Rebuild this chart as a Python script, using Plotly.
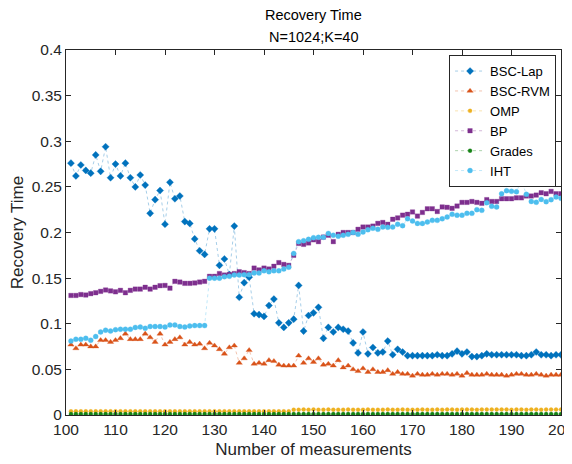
import plotly.graph_objects as go

x_vals = list(range(101, 201))

bsc_lap = [0.276, 0.262, 0.274, 0.268, 0.265, 0.285, 0.267, 0.294, 0.260, 0.275,
           0.262, 0.276, 0.260, 0.250, 0.263, 0.252, 0.221, 0.236, 0.246, 0.209,
           0.255, 0.237, 0.240, 0.212, 0.210, 0.193, 0.180, 0.176, 0.204, 0.204,
           0.164, 0.171, 0.154, 0.207, 0.129, 0.145, 0.151, 0.111, 0.110, 0.108,
           0.120, 0.127, 0.101, 0.096, 0.101, 0.105, 0.142, 0.092, 0.109, 0.112,
           0.118, 0.084, 0.096, 0.091, 0.096, 0.094, 0.092, 0.079, 0.068, 0.091,
           0.067, 0.074, 0.068, 0.069, 0.081, 0.066, 0.072, 0.069, 0.065, 0.065,
           0.065, 0.065, 0.065, 0.065, 0.066, 0.065, 0.065, 0.067, 0.070, 0.067,
           0.069, 0.064, 0.064, 0.065, 0.067, 0.066, 0.066, 0.066, 0.066, 0.066,
           0.066, 0.065, 0.065, 0.066, 0.069, 0.066, 0.066, 0.065, 0.066, 0.066]

bsc_rvm = [0.077, 0.073, 0.077, 0.077, 0.075, 0.075, 0.082, 0.082, 0.080, 0.082,
           0.084, 0.089, 0.083, 0.083, 0.083, 0.089, 0.085, 0.080, 0.089, 0.077,
           0.080, 0.083, 0.085, 0.077, 0.080, 0.077, 0.078, 0.073, 0.079, 0.076,
           0.072, 0.067, 0.074, 0.076, 0.057, 0.062, 0.071, 0.056, 0.057, 0.056,
           0.060, 0.059, 0.055, 0.054, 0.054, 0.054, 0.065, 0.057, 0.062, 0.058,
           0.062, 0.055, 0.056, 0.054, 0.060, 0.052, 0.054, 0.050, 0.048, 0.051,
           0.047, 0.050, 0.047, 0.047, 0.049, 0.045, 0.047, 0.045, 0.045, 0.043,
           0.045, 0.044, 0.044, 0.045, 0.044, 0.045, 0.045, 0.044, 0.045, 0.043,
           0.046, 0.044, 0.044, 0.044, 0.045, 0.044, 0.044, 0.044, 0.043, 0.044,
           0.045, 0.045, 0.044, 0.044, 0.045, 0.044, 0.043, 0.044, 0.044, 0.044]

omp = [0.004] * 45 + [0.0058, 0.0058, 0.0060, 0.0058, 0.0060, 0.0058, 0.0058, 0.0060, 0.0058, 0.0058,
                      0.0058, 0.0060, 0.0058, 0.0058, 0.0058, 0.0060, 0.0058, 0.0058, 0.0058, 0.0060,
                      0.0058, 0.0058, 0.0060, 0.0058, 0.0058, 0.0058, 0.0060, 0.0058, 0.0058, 0.0060,
                      0.0058, 0.0060, 0.0060, 0.0058, 0.0060, 0.0060, 0.0060, 0.0058, 0.0060, 0.0060,
                      0.0060, 0.0060, 0.0060, 0.0060, 0.0058, 0.0060, 0.0060, 0.0058, 0.0060, 0.0060,
                      0.0058, 0.0060, 0.0060, 0.0060, 0.0060]

bp = [0.131, 0.131, 0.132, 0.1315, 0.133, 0.134, 0.1355, 0.137, 0.136, 0.135,
      0.1366, 0.134, 0.1366, 0.138, 0.138, 0.140, 0.138, 0.140, 0.1417, 0.142,
      0.139, 0.1465, 0.1457, 0.1443, 0.1443, 0.1447, 0.1457, 0.1465, 0.152, 0.152,
      0.155, 0.1534, 0.154, 0.155, 0.157, 0.156, 0.155, 0.161, 0.159, 0.161,
      0.160, 0.163, 0.167, 0.165, 0.164, 0.175, 0.188, 0.187, 0.1885, 0.192,
      0.190, 0.195, 0.197, 0.190, 0.198, 0.200, 0.200, 0.200, 0.2035, 0.206,
      0.206, 0.207, 0.210, 0.211, 0.209, 0.2145, 0.216, 0.219, 0.220, 0.2225,
      0.218, 0.222, 0.226, 0.226, 0.223, 0.228, 0.2276, 0.2265, 0.229, 0.233,
      0.233, 0.234, 0.233, 0.232, 0.236, 0.234, 0.234, 0.237, 0.237, 0.237,
      0.238, 0.238, 0.240, 0.240, 0.241, 0.2436, 0.2425, 0.245, 0.2425, 0.2425]

grades = [0.001] * 100

iht = [0.081, 0.083, 0.083, 0.084, 0.082, 0.086, 0.091, 0.093, 0.092, 0.0935,
       0.094, 0.094, 0.094, 0.096, 0.0964, 0.095, 0.097, 0.097, 0.097, 0.0964,
       0.0986, 0.0986, 0.097, 0.0964, 0.0975, 0.098, 0.098, 0.098, 0.150, 0.150,
       0.150, 0.1516, 0.152, 0.1534, 0.1534, 0.1538, 0.1538, 0.1556, 0.1556, 0.158,
       0.157, 0.158, 0.158, 0.160, 0.162, 0.177, 0.190, 0.191, 0.1925, 0.1943,
       0.1947, 0.1947, 0.199, 0.197, 0.196, 0.197, 0.198, 0.200, 0.198, 0.2005,
       0.203, 0.2046, 0.2035, 0.206, 0.2057, 0.206, 0.209, 0.2075, 0.215, 0.2126,
       0.210, 0.210, 0.2115, 0.2133, 0.2133, 0.215, 0.217, 0.220, 0.219, 0.219,
       0.221, 0.221, 0.225, 0.2243, 0.2327, 0.2287, 0.228, 0.2425, 0.2458, 0.2451,
       0.2447, 0.2572, 0.2418, 0.234, 0.2331, 0.2363, 0.2338, 0.236, 0.2389, 0.2374]

y_ticks = [0, 0.05, 0.1, 0.15, 0.2, 0.25, 0.3, 0.35, 0.4]
y_ticktext = ["0", "0.05", "0.1", "0.15", "0.2", "0.25", "0.3", "0.35", "0.4"]
title_lines = ["Recovery Time", "N=1024;K=40"]

series = [
    ("BSC-Lap", bsc_lap, (0, 114, 189), "diamond", 5.5),
    ("BSC-RVM", bsc_rvm, (217, 83, 25), "triangle-up", 5.5),
    ("OMP", omp, (237, 177, 32), "circle", 4),
    ("BP", bp, (126, 47, 142), "square", 4.5),
    ("Grades", grades, (20, 130, 20), "circle", 4),
    ("IHT", iht, (77, 190, 238), "circle", 5),
]

fig = go.Figure()
for name, vals, (r, g, b), sym, sz in series:
    fig.add_trace(go.Scatter(
        x=x_vals, y=vals, name=name, mode="lines+markers",
        line=dict(color=f"rgba({r},{g},{b},0.35)", width=1, dash="dot"),
        marker=dict(symbol=sym, size=sz, color=f"rgb({r},{g},{b})",
                    line=dict(color=f"rgba({r},{g},{b},0.3)", width=1)),
    ))

axis_common = dict(
    showline=True, linecolor="#262626", linewidth=1, mirror="ticks",
    ticks="inside", ticklen=5, tickcolor="#262626", showgrid=False, zeroline=False,
    automargin=False,
    tickfont=dict(family="Arial", size=15.5, color="#262626"),
)

for line, ypos in zip(title_lines, [1.096, 1.035]):
    fig.add_annotation(text=line, x=0.5, xref="paper", y=ypos, yref="paper",
                       xanchor="center", yanchor="middle", showarrow=False,
                       font=dict(family="Arial", size=14.5, color="black"))

# page body has an 8px margin, so the figure is sized to end at the window edge
fig.update_layout(
    width=564, height=456,
    margin=dict(l=58, r=11, t=42, b=49),
    paper_bgcolor="white", plot_bgcolor="white",
    xaxis=dict(range=[100, 200], dtick=10, tick0=100, ticklabeloverflow="allow",
               title=dict(text="Number of measurements", standoff=6,
                          font=dict(family="Arial", size=17, color="#262626")),
               **axis_common),
    yaxis=dict(range=[0, 0.4], tickvals=y_ticks, ticktext=y_ticktext,
               ticklabeloverflow="allow",
               title=dict(text="Recovery Time", standoff=6,
                          font=dict(family="Arial", size=17, color="#262626")),
               **axis_common),
    legend=dict(x=0.99, xanchor="right", y=0.986, yanchor="top",
                bgcolor="white", bordercolor="#262626", borderwidth=1,
                font=dict(family="Arial", size=13, color="black"),
                itemwidth=30, tracegroupgap=0),
    showlegend=True,
)

fig.write_html("out.html")
